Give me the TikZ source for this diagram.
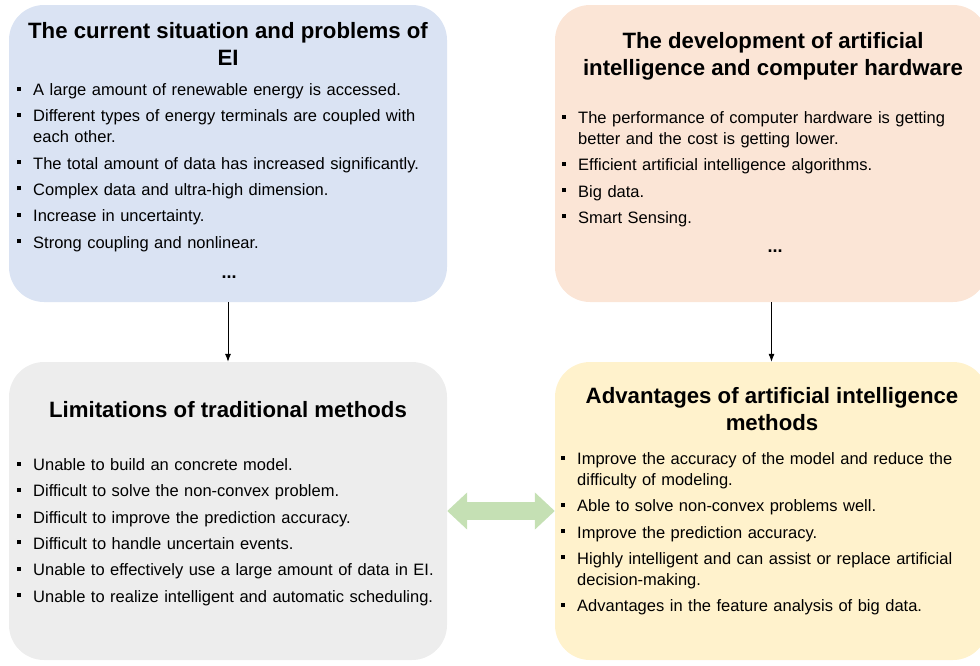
\documentclass[tikz,border=0pt]{standalone}
\usepackage{fontspec}
\setmainfont{Liberation Sans}
\usepackage{tikz}
\usetikzlibrary{positioning}
\usetikzlibrary{arrows.meta}
\definecolor{boxblue}{HTML}{DAE3F3}
\definecolor{boxpeach}{HTML}{FBE5D6}
\definecolor{boxgray}{HTML}{EDEDED}
\definecolor{boxyellow}{HTML}{FFF2CC}
\definecolor{arrowgreen}{HTML}{C5E0B4}
\tikzstyle{panel}=[rectangle,rounded corners=35pt,draw=none,inner sep=0pt,minimum height=297pt]
\tikzstyle{title}=[font=\fontsize{22.2}{27}\selectfont\bfseries,align=center,inner sep=0pt]
\tikzstyle{list}=[font=\fontsize{16.5}{21}\selectfont,text width=420pt,inner sep=0pt,anchor=north west]
\tikzstyle{dots}=[font=\fontsize{18}{21}\selectfont\bfseries,inner sep=0pt]
\newcommand{\bitem}{\par\hangindent=16pt\hangafter=1\noindent\makebox[16pt][l]{\rule[5pt]{4pt}{4pt}}}
\newcommand{\listsep}{\setlength{\parskip}{5.3pt}\raggedright}

\begin{document}
\begin{tikzpicture}[x=1pt,y=-1pt]

      \useasboundingbox (0,0) rectangle (980,665);

      % the four panels
      \node[panel, fill=boxblue, minimum width=438pt] (box_current) at (228, 153.5) {};
      \node[panel, fill=boxpeach, minimum width=433pt] (box_dev) at (771.5, 153.5) {};
      \node[panel, fill=boxgray, minimum width=438pt, minimum height=298pt] (box_limit) at (228, 511) {};
      \node[panel, fill=boxyellow, minimum width=433pt, minimum height=298pt] (box_adv) at (771.5, 511) {};

      \node[title] (title_current) at (228, 43.5) {The current situation and problems of\\EI};
      \node[title] (title_dev) at (773, 56.8) {The development of artificial\\intelligence and computer hardware};
      \node[title] (title_limit) at (228, 410) {Limitations of traditional methods};
      \node[title] (title_adv) at (772, 409.5) {Advantages of artificial intelligence\\methods};

      \node[list] (list_current) at (17, 69) {\listsep
        \bitem A large amount of renewable energy is accessed.
        \bitem Different types of energy terminals are coupled with\newline each other.
        \bitem The total amount of data has increased significantly.
        \bitem Complex data and ultra-high dimension.
        \bitem Increase in uncertainty.
        \bitem Strong coupling and nonlinear.\par};
      \node[dots] (dots_current) at (229, 277) {...};

      \node[list] (list_dev) at (562, 97) {\listsep
        \bitem The performance of computer hardware is getting\newline better and the cost is getting lower.
        \bitem Efficient artificial intelligence algorithms.
        \bitem Big data.
        \bitem Smart Sensing.\par};
      \node[dots] (dots_dev) at (775, 251) {...};

      \node[list] (list_limit) at (17, 444) {\listsep
        \bitem Unable to build an concrete model.
        \bitem Difficult to solve the non-convex problem.
        \bitem Difficult to improve the prediction accuracy.
        \bitem Difficult to handle uncertain events.
        \bitem Unable to effectively use a large amount of data in EI.
        \bitem Unable to realize intelligent and automatic scheduling.\par};

      \node[list] (list_adv) at (561, 438) {\listsep
        \bitem Improve the accuracy of the model and reduce the\newline difficulty of modeling.
        \bitem Able to solve non-convex problems well.
        \bitem Improve the prediction accuracy.
        \bitem Highly intelligent and can assist or replace artificial\newline decision-making.
        \bitem Advantages in the feature analysis of big data.\par};

      % connectors
      \draw[-{Latex[length=8pt,width=6pt]}, line width=0.8pt] (box_current.south) -- (box_limit.north);
      \draw[-{Latex[length=8pt,width=6pt]}, line width=0.8pt] (box_dev.south) -- (box_adv.north);
      \draw[arrowgreen, line width=18pt, {Triangle[length=20pt,width=36pt]}-{Triangle[length=20pt,width=36pt]}] (box_limit.east) -- (box_adv.west);

\end{tikzpicture}
\end{document}
